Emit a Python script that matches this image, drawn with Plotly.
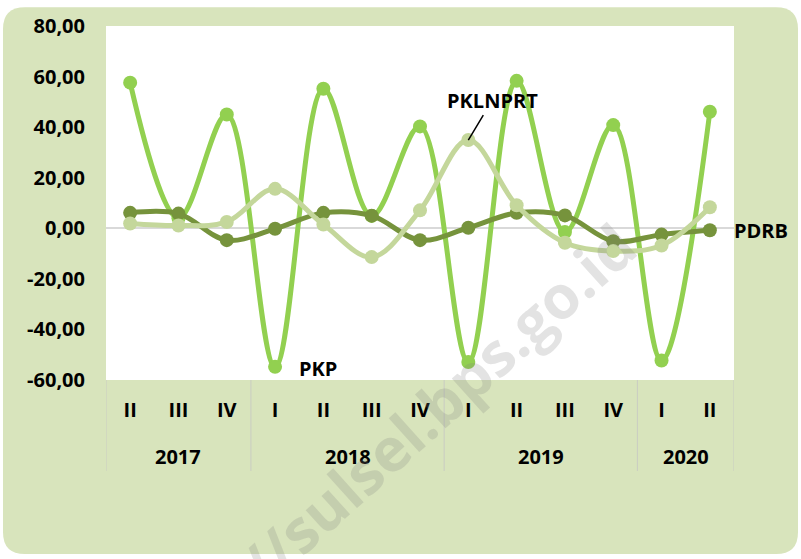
import plotly.graph_objs as go

# quarters and years along the x axis
quarters = ['II', 'III', 'IV', 'I', 'II', 'III', 'IV', 'I', 'II', 'III', 'IV', 'I', 'II']
years = ['2017', '2018', '2019', '2020']
quarters_per_year = [3, 4, 4, 2]

# growth series
pkp = [57.6, 4.0, 45.0, -54.8, 55.2, 4.9, 40.3, -52.9, 58.3, -1.5, 40.8, -52.3, 46.1]
pdrb = [6.1, 5.8, -4.7, -0.2, 6.1, 5.0, -4.7, 0.2, 6.1, 5.1, -5.1, -2.5, -0.8]
pklnprt = [1.9, 1.1, 2.5, 15.6, 1.5, -11.4, 7.1, 34.9, 9.1, -5.7, -9.0, -6.8, 8.3]

y_ticks = [-60, -40, -20, 0, 20, 40, 60, 80]

W, H = 801, 559
L, R, T, B = 106, 734, 22, 380
FONT = 'Open Sans'
BG = '#D8E4BC'

x = list(range(len(quarters)))


def px(v):
    return (v - L) / (R - L)


def py(v):
    return (B - v) / (B - T)


fig = go.Figure()
for name, vals, col in [('PKP', pkp, '#92D050'), ('PDRB', pdrb, '#76933C'),
                        ('PKLNPRT', pklnprt, '#C4D79B')]:
    fig.add_trace(go.Scatter(x=x, y=vals, name=name, mode='lines+markers',
                             line=dict(color=col, width=5, shape='spline', smoothing=1),
                             marker=dict(color=col, size=14)))

# rounded green background + white plot area
x0, x1, y0, y1, r = 3, 798, 3, 556, 22
path = (f'M {px(x0 + r)},{py(y0)} L {px(x1 - r)},{py(y0)} Q {px(x1)},{py(y0)} {px(x1)},{py(y0 + r)} '
        f'L {px(x1)},{py(y1 - r)} Q {px(x1)},{py(y1)} {px(x1 - r)},{py(y1)} '
        f'L {px(x0 + r)},{py(y1)} Q {px(x0)},{py(y1)} {px(x0)},{py(y1 - r)} '
        f'L {px(x0)},{py(y0 + r)} Q {px(x0)},{py(y0)} {px(x0 + r)},{py(y0)} Z')
shapes = [dict(type='path', path=path, xref='paper', yref='paper', fillcolor=BG,
               line=dict(width=0), layer='below'),
          dict(type='rect', xref='paper', yref='paper', x0=0, x1=1, y0=0, y1=1,
               fillcolor='white', line=dict(width=0), layer='below')]

# year dividers and year labels
annotations = []
start = 0
edges = [-0.5]
for yr, n in zip(years, quarters_per_year):
    annotations.append(dict(x=start + (n - 1) / 2, y=py(457), xref='x', yref='paper', text=yr,
                            xanchor='center', yanchor='middle', showarrow=False,
                            font=dict(family=FONT, size=20, color='black', weight='bold')))
    start += n
    edges.append(start - 0.5)
for e in edges:
    shapes.append(dict(type='line', xref='x', yref='paper', x0=e, x1=e, y0=0, y1=py(472),
                       line=dict(color='#C9CCC2', width=1)))

lab_font = dict(family=FONT, size=20, color='black', weight='bold')
annotations += [
    dict(x=3, y=pkp[3], text='PKP', showarrow=False, xanchor='left', xshift=22, yshift=-2, font=lab_font),
    dict(x=12, y=pdrb[12], text='PDRB', showarrow=False, xanchor='left', xshift=22, font=lab_font),
    dict(x=7, y=pklnprt[7], text='PKLNPRT', showarrow=True, arrowhead=0, arrowwidth=1.5,
         arrowcolor='black', ax=24, ay=-40, font=lab_font),
    # watermark
    dict(x=px(437), y=py(405), xref='paper', yref='paper', text='//sulsel.bps.go.id',
         xanchor='center', yanchor='middle', showarrow=False, textangle=-42,
         font=dict(family=FONT, size=60, color='rgba(128,128,128,0.22)', weight='bold')),
]

fig.update_layout(
    width=W, height=H,
    margin=dict(l=L, r=W - R, t=T, b=H - B),
    paper_bgcolor='white', plot_bgcolor='rgba(0,0,0,0)',
    showlegend=False,
    shapes=shapes, annotations=annotations,
    xaxis=dict(range=[-0.5, len(x) - 0.5], tickvals=x, ticktext=quarters, showgrid=False,
               zeroline=False, showline=False, ticks='', ticklabelstandoff=16,
               tickfont=dict(family=FONT, size=20, color='black', weight='bold')),
    yaxis=dict(range=[-60, 80], tickvals=y_ticks,
               ticktext=[f'{v:.2f}'.replace('.', ',') for v in y_ticks],
               showgrid=False, zeroline=True, zerolinecolor='#D9D9D9', zerolinewidth=2,
               showline=False, ticks='', ticklabelstandoff=20,
               tickfont=dict(family=FONT, size=20, color='black', weight='bold')),
)

fig.write_html('out.html', config={'displayModeBar': False},
               post_script="document.body.style.margin='0';")
